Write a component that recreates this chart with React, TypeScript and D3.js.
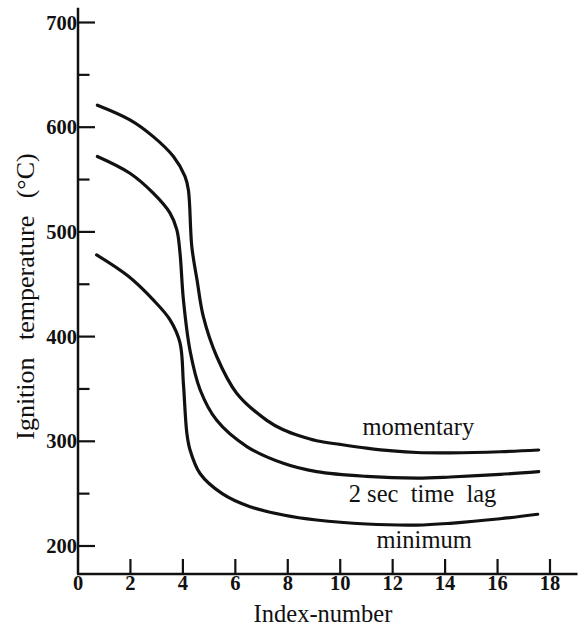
import React from "react";
import * as d3 from "d3";

// Ignition temperature (°C) against index-number for three ignition criteria
const momentary: [number, number][] = [
  [0.74, 621], [1.98, 607], [2.87, 591], [3.64, 572], [4.08, 553], [4.21, 540],
  [4.34, 486], [4.54, 454], [4.78, 419], [5.29, 381], [6.05, 346], [7.2, 320],
  [7.83, 311], [8.47, 305], [9.1, 300.5], [10.0, 297], [11.0, 293.5], [12.0, 290.8],
  [12.93, 289.3], [14.2, 289], [16.1, 290], [17.57, 291.7],
];

const timeLag2s: [number, number][] = [
  [0.74, 572], [1.98, 556], [2.87, 537], [3.51, 518], [3.77, 502], [3.89, 480],
  [4.02, 435], [4.27, 387], [4.66, 349], [5.29, 320], [6.44, 295], [7.83, 279],
  [9.1, 271], [11.0, 266.5], [12.93, 264.9], [14.2, 265.9], [16.1, 268.4], [17.57, 271],
];

const minimum: [number, number][] = [
  [0.71, 478], [1.9, 458], [2.87, 435], [3.51, 416], [3.89, 394], [4.02, 355], [4.15, 308],
  [4.27, 292], [4.66, 269], [5.5, 250], [6.56, 237.5], [7.83, 229.6], [9.1, 224.8], [11.0, 221],
  [12.93, 220], [14.2, 221.7], [16.1, 226], [17.53, 230.3],
];

const xTicks = [2, 4, 6, 8, 10, 12, 14, 16, 18];
const xTickLabels = ["0", "2", "4", "6", "8", "10", "12", "14", "16", "18"];
const yMajorTicks = [200, 300, 400, 500, 600, 700];
const yMinorTicks = [250, 350, 450, 550, 650];

const curveLabels = [
  { text: "momentary", x: 12.98, y: 306 },
  { text: "2 sec  time  lag", x: 13.14, y: 242.3 },
  { text: "minimum", x: 13.2, y: 197.8 },
];

const W = 586;
const H = 631;
const FONT = "Liberation Serif";

export default function App() {
  const x = d3.scaleLinear().domain([0, 18]).range([78, 550]);
  const y = d3.scaleLinear().domain([200, 700]).range([546, 22.5]);

  const xAxisEnd = 19.05;
  const yAxisFloor = y.invert(574);
  const yAxisTop = 714;

  const line = d3
    .line<[number, number]>()
    .x((d) => x(d[0]))
    .y((d) => y(d[1]))
    .curve(d3.curveCatmullRom.alpha(0.5));

  const series = [momentary, timeLag2s, minimum];

  return (
    <svg width={W} height={H} style={{ position: "absolute", left: 0, top: 0, background: "#fff" }}>
      <rect width={W} height={H} fill="#fff" />

      {/* axes */}
      <line x1={x(0)} x2={x(0)} y1={y(yAxisFloor)} y2={y(yAxisTop)} stroke="#111" strokeWidth={2.5} />
      <line x1={x(0) - 1} x2={x(xAxisEnd)} y1={y(yAxisFloor)} y2={y(yAxisFloor)} stroke="#111" strokeWidth={2.5} />

      {/* y ticks */}
      {yMajorTicks.map((t) => (
        <g key={"ym" + t}>
          <line x1={x(0)} x2={x(0) + 17} y1={y(t)} y2={y(t)} stroke="#111" strokeWidth={2.2} />
          <text x={x(0) - 1} y={y(t)} dy="0.35em" textAnchor="end" fontSize={20.5} fontWeight="bold" fill="#111" fontFamily={FONT}>
            {t}
          </text>
        </g>
      ))}
      {yMinorTicks.map((t) => (
        <line key={"yn" + t} x1={x(0)} x2={x(0) + 11.5} y1={y(t)} y2={y(t)} stroke="#111" strokeWidth={2.2} />
      ))}

      {/* x ticks */}
      {xTicks.map((t) => (
        <line key={"xt" + t} x1={x(t)} x2={x(t)} y1={y(yAxisFloor)} y2={y(yAxisFloor) - 15} stroke="#111" strokeWidth={2.2} />
      ))}
      {xTickLabels.map((s) => (
        <text key={"xl" + s} x={x(+s)} y={589.5} textAnchor="middle" fontSize={20.5} fontWeight="bold" fill="#111" fontFamily={FONT}>
          {s}
        </text>
      ))}

      {/* axis titles */}
      <text x={323} y={621.5} textAnchor="middle" fontSize={24.5} fill="#111" fontFamily={FONT}>
        Index-number
      </text>
      <text
        transform="translate(34,296.5) rotate(-90)"
        textAnchor="middle"
        fontSize={26}
        fill="#111"
        fontFamily={FONT}
        wordSpacing={11}
      >
        Ignition temperature (°C)
      </text>

      {/* curves */}
      {series.map((s, i) => (
        <path key={i} d={line(s) || ""} fill="none" stroke="#111" strokeWidth={3.2} strokeLinecap="round" />
      ))}

      {/* curve labels */}
      {curveLabels.map((l) => (
        <text key={l.text} x={x(l.x)} y={y(l.y)} textAnchor="middle" fontSize={24.5} fill="#111" fontFamily={FONT} style={{ whiteSpace: "pre" }}>
          {l.text}
        </text>
      ))}
    </svg>
  );
}
